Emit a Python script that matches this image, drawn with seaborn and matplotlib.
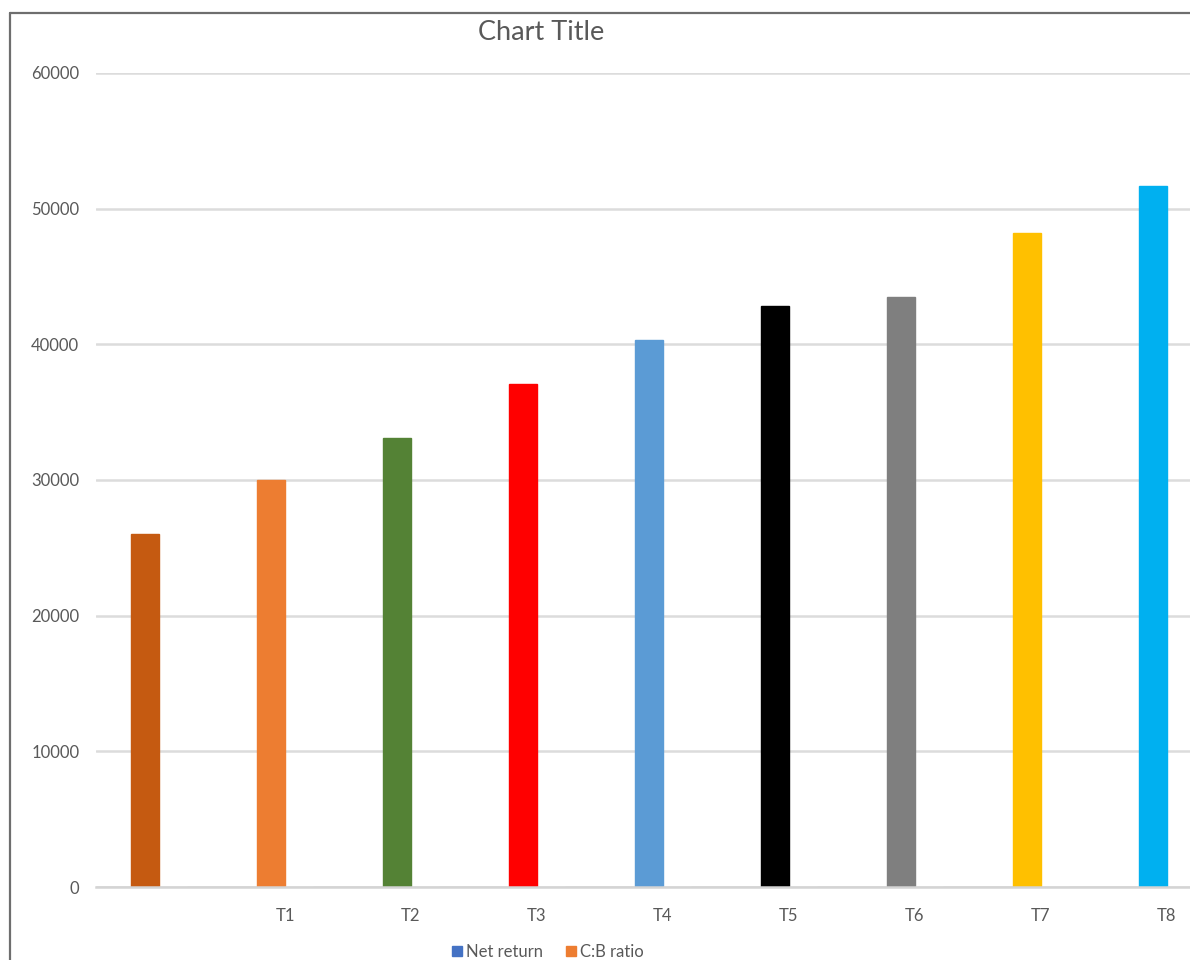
import matplotlib
matplotlib.use("Agg")
import matplotlib.pyplot as plt
from matplotlib.lines import Line2D
import seaborn as sns
import pandas as pd

# ---- data ----
categories = ["", "T1", "T2", "T3", "T4", "T5", "T6", "T7", "T8"]
net_return = [26000, 30000, 33100, 37100, 40300, 42800, 43500, 48200, 51700]
cb_ratio = [1.9, 2.1, 2.2, 2.4, 2.5, 2.6, 2.6, 2.8, 2.9]
series_names = ["Net return", "C:B ratio"]
series_colors = ["#4472C4", "#ED7D31"]
point_colors = ["#C55A11", "#ED7D31", "#548235", "#FF0000", "#5B9BD5",
                "#000000", "#7F7F7F", "#FFC000", "#00B0F0"]
y_ticks = [0, 10000, 20000, 30000, 40000, 50000, 60000]

df = pd.DataFrame({
    "cat": categories * 2,
    "series": [series_names[0]] * len(categories) + [series_names[1]] * len(categories),
    "value": net_return + cb_ratio,
})

sns.set_theme(style="white")
plt.rcParams["font.family"] = ["Lato", "DejaVu Sans"]

W, H = 1190, 960
fig = plt.figure(figsize=(W / 100, H / 100), dpi=100)
fig.patch.set_facecolor("white")

left_px, bottom_px, top_px = 96, 887, 73
width_px = 1134
ax = fig.add_axes([left_px / W, (H - bottom_px) / H, width_px / W, (bottom_px - top_px) / H])

sns.barplot(data=df, x="cat", y="value", hue="series", order=categories,
            hue_order=series_names, palette=series_colors, width=0.444,
            saturation=1, ax=ax, legend=False)

for patch, c in zip(ax.containers[0], point_colors):
    patch.set_facecolor(c)
    patch.set_edgecolor(c)

ax.set_xlim(-0.5, len(categories) - 0.5)
ax.set_ylim(0, 60000)
ax.set_yticks(y_ticks)
ax.set_yticklabels([str(v) for v in y_ticks])
ax.set_xlabel("")
ax.set_ylabel("")
ax.grid(axis="y", color="#DCDCDC", linewidth=1.8)
ax.set_axisbelow(True)
for s in ["top", "right", "left"]:
    ax.spines[s].set_visible(False)
ax.spines["bottom"].set_color("#D4D4D4")
ax.spines["bottom"].set_linewidth(1.8)
ax.tick_params(axis="y", length=0, pad=12, labelsize=12, labelcolor="#595959")
ax.tick_params(axis="x", length=0, pad=15, labelsize=12, labelcolor="#595959")

fig.text(541 / W, 1 - 32 / H, "Chart Title", ha="center", va="center",
         fontsize=19.5, color="#595959")

handles = [Line2D([], [], marker="s", linestyle="none", markersize=7,
                  markerfacecolor=c, markeredgecolor=c) for c in series_colors]
fig.legend(handles, series_names, loc="center", bbox_to_anchor=(547 / W, 1 - 952 / H),
           ncol=2, frameon=False, fontsize=12, labelcolor="#595959",
           handletextpad=0.15, columnspacing=1.3, handlelength=0.8,
           borderpad=0, borderaxespad=0)

# chart border (left and top edges visible; rest cropped)
fig.add_artist(Line2D([9.5 / W, 9.5 / W], [0, 1 - 13 / H], transform=fig.transFigure,
                      color="#6E6E6E", linewidth=1.6))
fig.add_artist(Line2D([9.5 / W, 1], [1 - 13 / H, 1 - 13 / H], transform=fig.transFigure,
                      color="#6E6E6E", linewidth=1.6))

fig.savefig("out.png", dpi=100)
